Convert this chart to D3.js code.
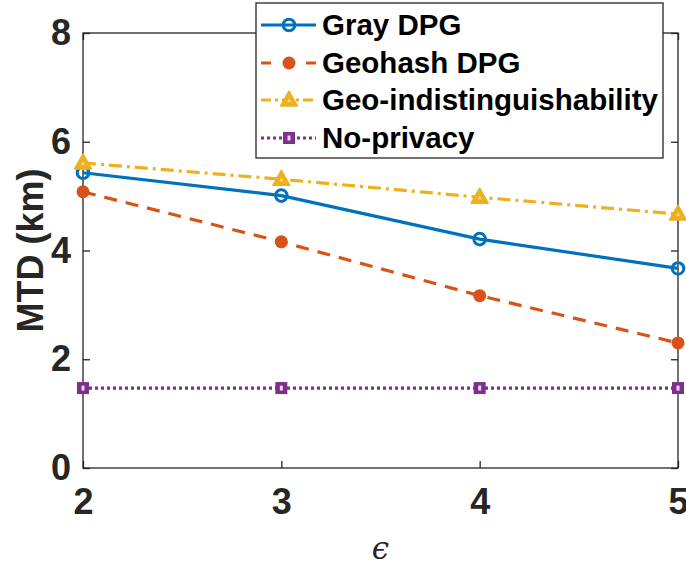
<!DOCTYPE html>
<html lang="en">
    <head>
        <meta charset="utf-8">
        <title>MTD vs epsilon</title>
        <script type="text/javascript" src="https://cdn.jsdelivr.net/npm/d3@7"></script>
        <style>
            body { margin: 0; background: #fff; }
        </style>
    </head>
    <body>
        <script type="text/javascript">
            // data
            var epsilons = [2, 3, 4, 5];
            var grayDPG = [5.43, 5.01, 4.21, 3.67];
            var geohashDPG = [5.08, 4.16, 3.17, 2.30];
            var geoInd = [5.61, 5.31, 4.98, 4.67];
            var noPrivacy = [1.47, 1.47, 1.47, 1.47];
            var seriesNames = ["Gray DPG", "Geohash DPG", "Geo-indistinguishability", "No-privacy"];
            var xTicks = [2, 3, 4, 5];
            var yTicks = [0, 2, 4, 6, 8];

            var w = 686;
            var h = 568;
            // plot box (note: "top" is taken by window.top)
            var boxL = 83, boxR = 678, boxT = 33, boxB = 468;
            var axisColor = "#262626";

            var x = d3.scaleLinear().domain([2, 5]).range([boxL, boxR]);
            var y = d3.scaleLinear().domain([0, 8]).range([boxB, boxT]);

            var series = [
                { name: seriesNames[0], values: grayDPG, color: "#0072BD", dash: null, marker: "circleOpen" },
                { name: seriesNames[1], values: geohashDPG, color: "#D95319", dash: "13,9", marker: "circle" },
                { name: seriesNames[2], values: geoInd, color: "#EDB120", dash: "13,5,3,5", marker: "triangle" },
                { name: seriesNames[3], values: noPrivacy, color: "#7E2F8E", dash: "3,3", marker: "square" }
            ];

            var svg = d3.select("body").append("svg")
                .attr("width", w)
                .attr("height", h);

            // box
            svg.append("rect")
               .attr("x", boxL).attr("y", boxT)
               .attr("width", boxR - boxL).attr("height", boxB - boxT)
               .attr("fill", "none")
               .attr("stroke", axisColor)
               .attr("stroke-width", 1.3);

            // axes with inward ticks, mirrored on top and right
            var tickFont = "'Liberation Sans Narrow', 'Liberation Sans', Arial, sans-serif";
            var xAxis = svg.append("g")
                .attr("transform", "translate(0," + boxB + ")")
                .call(d3.axisBottom(x).tickValues(xTicks).tickSizeInner(-7).tickSizeOuter(0).tickPadding(20)
                      .tickFormat(d3.format("d")));
            svg.append("g")
                .attr("transform", "translate(0," + boxT + ")")
                .call(d3.axisTop(x).tickValues(xTicks).tickSizeInner(-7).tickSizeOuter(0).tickFormat(""));
            var yAxis = svg.append("g")
                .attr("transform", "translate(" + boxL + ",0)")
                .call(d3.axisLeft(y).tickValues(yTicks).tickSizeInner(-7).tickSizeOuter(0).tickPadding(12)
                      .tickFormat(d3.format("d")));
            svg.append("g")
                .attr("transform", "translate(" + boxR + ",0)")
                .call(d3.axisRight(y).tickValues(yTicks).tickSizeInner(-7).tickSizeOuter(0).tickFormat(""));

            svg.selectAll(".domain").remove();
            svg.selectAll(".tick line").attr("stroke", axisColor).attr("stroke-width", 1.3);
            svg.selectAll(".tick text")
               .attr("fill", axisColor)
               .attr("font-family", tickFont)
               .attr("font-weight", "bold")
               .attr("font-size", "36px");
            xAxis.selectAll(".tick text").attr("dy", "0.71em");

            // axis labels
            svg.append("text")
               .text("MTD (km)")
               .attr("transform", "translate(43," + ((boxT + boxB) / 2) + ") rotate(-90)")
               .attr("text-anchor", "middle")
               .attr("font-family", "'Liberation Sans', Arial, sans-serif")
               .attr("font-weight", "bold")
               .attr("font-size", "36px")
               .attr("fill", axisColor);
            svg.append("text")
               .text("\u03F5")
               .attr("x", (boxL + boxR) / 2)
               .attr("y", 559)
               .attr("text-anchor", "middle")
               .attr("font-family", "'DejaVu Serif', serif")
               .attr("font-style", "italic")
               .attr("font-size", "31px")
               .attr("fill", axisColor);

            // lines
            var line = d3.line()
                .x(function(d, i) { return x(epsilons[i]); })
                .y(function(d) { return y(d); });

            function drawMarker(g, type, color) {
                if (type == "circleOpen") {
                    g.append("circle").attr("r", 5.8).attr("fill", "none")
                     .attr("stroke", color).attr("stroke-width", 3);
                } else if (type == "circle") {
                    g.append("circle").attr("r", 6.5).attr("fill", color);
                } else if (type == "triangle") {
                    g.append("path").attr("d", "M0,-9 L8.5,6 L-8.5,6 Z")
                     .attr("fill", color).attr("stroke", color).attr("stroke-width", 1.5)
                     .attr("stroke-linejoin", "round");
                    g.append("path").attr("d", "M0,-1.5 L1.8,2 L-1.8,2 Z").attr("fill", "#f6dfa6");
                } else if (type == "square") {
                    g.append("rect").attr("x", -6).attr("y", -6).attr("width", 12).attr("height", 12)
                     .attr("fill", color);
                    g.append("rect").attr("x", -1.5).attr("y", -2.5).attr("width", 3).attr("height", 5)
                     .attr("fill", "#e6d8ea");
                }
            }

            series.forEach(function(s) {
                svg.append("path")
                   .datum(s.values)
                   .attr("d", line)
                   .attr("fill", "none")
                   .attr("stroke", s.color)
                   .attr("stroke-width", 3.2)
                   .attr("stroke-dasharray", s.dash);
                s.values.forEach(function(v, i) {
                    var g = svg.append("g")
                        .attr("transform", "translate(" + x(epsilons[i]) + "," + y(v) + ")");
                    drawMarker(g, s.marker, s.color);
                });
            });

            // legend
            var lg = svg.append("g");
            lg.append("rect")
              .attr("x", 256).attr("y", 3)
              .attr("width", 407).attr("height", 155)
              .attr("fill", "#fff")
              .attr("stroke", axisColor)
              .attr("stroke-width", 1.3);
            var rowY = [25, 63, 100, 138];
            var legDash = { "Geohash DPG": "10,35", "Geo-indistinguishability": "10,4,3,4", "No-privacy": "3,3" };
            series.forEach(function(s, i) {
                var ly = rowY[i];
                lg.append("line")
                  .attr("x1", 261).attr("x2", 316)
                  .attr("y1", ly).attr("y2", ly)
                  .attr("stroke", s.color)
                  .attr("stroke-width", 3.2)
                  .attr("stroke-dasharray", legDash[s.name] || null);
                var g = lg.append("g").attr("transform", "translate(289," + ly + ")");
                drawMarker(g, s.marker, s.color);
                lg.append("text")
                  .text(s.name)
                  .attr("x", 322)
                  .attr("y", ly)
                  .attr("dy", "0.35em")
                  .attr("font-family", "'Liberation Sans', Arial, sans-serif")
                  .attr("font-weight", "bold")
                  .attr("font-size", "29.5px")
                  .attr("fill", "#000");
            });
        </script>
    </body>
</html>
